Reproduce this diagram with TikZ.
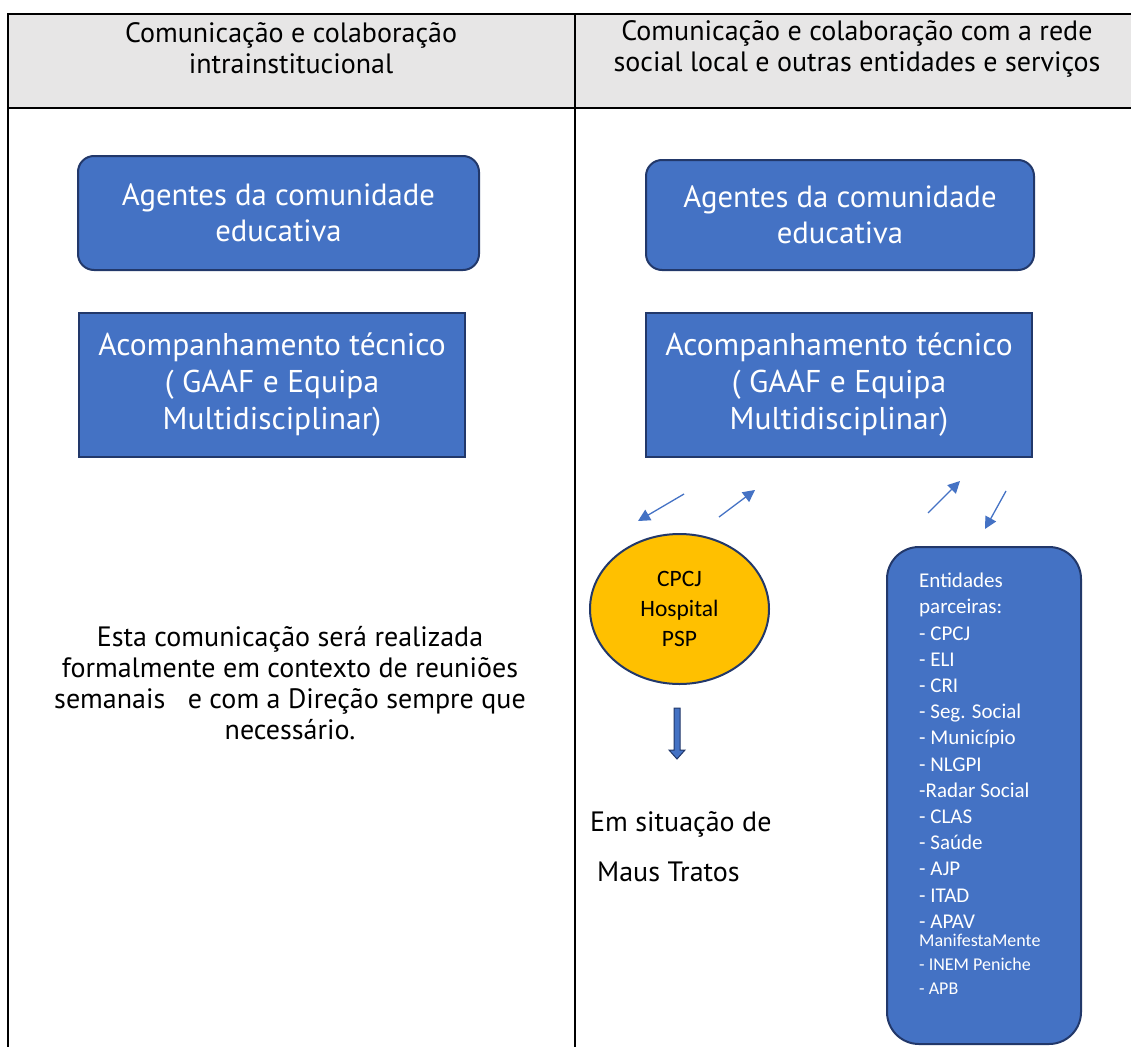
\documentclass[tikz,border=0pt]{standalone}
\usepackage{fontspec}
\setmainfont{PT Sans}
\newfontfamily\calibri{Carlito}
\usetikzlibrary{positioning,shapes.geometric,arrows.meta}

\definecolor{boxblue}{HTML}{4472C4}
\definecolor{boxline}{HTML}{22386A}
\definecolor{headgray}{HTML}{E7E6E6}
\definecolor{ovalyellow}{HTML}{FFC000}

\begin{document}
\begin{tikzpicture}[
	x=1pt,
	y=-1pt,
	header/.style={
		align=center,
		inner sep=0pt,
		font=\fontsize{28}{31}\selectfont
	},
	agents/.style={
		rectangle,
		draw=boxline,
		line width=2pt,
		fill=boxblue,
		text=white,
		align=center,
		rounded corners=16pt,
		font=\fontsize{30.7}{36}\selectfont
	},
	techbox/.style={
		rectangle,
		draw=boxline,
		line width=2pt,
		fill=boxblue,
		text=white,
		align=center,
		minimum width=386pt,
		minimum height=144pt,
		font=\fontsize{31.5}{37}\selectfont
	},
	partner/.style={
		ellipse,
		draw=boxline,
		line width=2pt,
		fill=ovalyellow,
		align=center,
		minimum width=179pt,
		minimum height=150pt,
		font=\calibri\fontsize{23.5}{30}\selectfont
	},
	entities/.style={
		rectangle,
		draw=boxline,
		line width=2pt,
		fill=boxblue,
		rounded corners=32pt,
		minimum width=194pt,
		minimum height=497pt
	},
	listtext/.style={
		align=left,
		inner sep=0pt,
		text=white,
		font=\calibri\fontsize{21}{26.2}\selectfont
	},
	bodytext/.style={
		align=center,
		inner sep=0pt,
		font=\fontsize{28}{31}\selectfont
	},
	link/.style={
		draw=boxblue,
		line width=1.3pt,
		-{Triangle[length=12pt,width=12pt]}
	},
	blockarrow/.style={
		draw=boxline,
		line width=1pt,
		fill=boxblue
	}
]

\useasboundingbox (0,0) rectangle (1131,1046);

% Table
\fill[headgray] (8,14) rectangle (1140,108);
\draw[line width=2pt] (1140,14) -- (8,14) -- (8,1050);
\draw[line width=2pt] (8,108) -- (1140,108);
\draw[line width=2pt] (575,14) -- (575,1050);

% Header
\node[header] (headl) at (291,48.5) {Comunicação e colaboração\\intrainstitucional};
\node[header] (headr) at (857,48.5) {Comunicação e colaboração com a rede\\social local e outras entidades e serviços};

% Left column
\node[agents,minimum width=401pt,minimum height=114pt] (agl) at (278.5,213) {Agentes da comunidade\\educativa};
\node[techbox] (tecl) at (272,385) {Acompanhamento técnico\\( GAAF e Equipa\\Multidisciplinar)};
\node[bodytext] (note) at (290,683) {Esta comunicação será realizada\\formalmente em contexto de reuniões\\semanais \ \ e com a Direção sempre que\\necessário.};

% Right column
\node[agents,minimum width=388pt,minimum height=110pt] (agr) at (840,215) {Agentes da comunidade\\educativa};
\node[techbox] (tecr) at (839,385) {Acompanhamento técnico\\( GAAF e Equipa\\Multidisciplinar)};

% Partners
\node[partner] (cpcj) at (679.5,609) {CPCJ\\Hospital\\PSP};
\node[entities] (ent) at (984,795.5) {};
\node[listtext,anchor=north west] (list) at (919,573) {Entidades\\parceiras:\\- CPCJ\\- ELI\\- CRI\\- Seg. Social\\- Município\\- NLGPI\\-Radar Social\\- CLAS\\- Saúde\\- AJP\\- ITAD\\- APAV};
\node[listtext,font=\calibri\fontsize{18}{24}\selectfont,below=5pt of list.south west,anchor=north west] (list2) {ManifestaMente\\- INEM Peniche\\- APB};

% Small arrows
\coordinate (a1s) at (684,494);
\coordinate (a1e) at (638,521);
\coordinate (a2s) at (719,517);
\coordinate (a2e) at (755,490);
\coordinate (a3s) at (928,513);
\coordinate (a3e) at (960,481);
\coordinate (a4s) at (1006,491);
\coordinate (a4e) at (985,529);
\foreach \x in {1, ..., 4}
	\draw[link] (a\x s) -- (a\x e);

% Block arrow
\coordinate (blk) at (677,708);
\draw[blockarrow] (blk) ++(-3,0) -- ++(0,42) -- ++(-5,0) -- ++(8,9) -- ++(8,-9) -- ++(-5,0) -- ++(0,-42) -- cycle;

% Maus tratos
\node[bodytext,anchor=west] (sit) at (590,824) {Em situação de};
\node[bodytext,anchor=west] (maus) at (597,872) {Maus Tratos};

\end{tikzpicture}
\end{document}
